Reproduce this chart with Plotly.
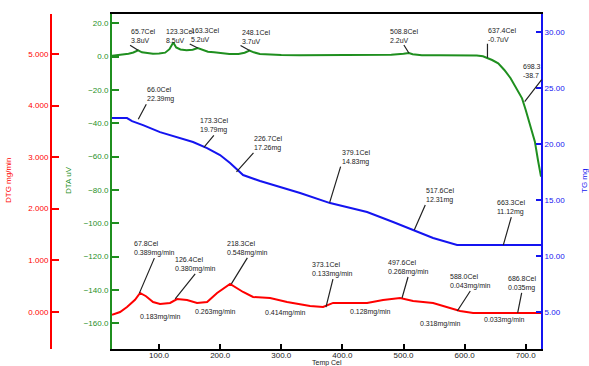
import plotly.graph_objects as go

# ---------------- data ----------------
temp_dta = [23, 30, 40, 50, 58, 65.7, 72, 80, 90, 100, 110, 117, 123.3, 128, 135, 145, 155,
            163.3, 170, 180, 190, 200, 215, 230, 240, 248.1, 255, 265, 280, 300, 330, 360,
            400, 440, 480, 500, 508.8, 515, 530, 560, 600, 620, 630, 637.4, 645, 655, 665,
            675, 685, 694, 700, 705, 710, 715, 720, 725]
dta = [0.5, 0.8, 1.2, 1.8, 2.5, 3.8, 2.6, 2.0, 1.7, 1.9, 2.4, 4.5, 8.5, 5.5, 4.3, 3.8, 4.2,
       5.2, 4.2, 3.0, 2.6, 2.2, 1.6, 1.6, 2.4, 3.7, 2.6, 1.6, 1.2, 1.0, 0.8, 0.9,
       0.8, 1.0, 1.2, 1.8, 2.2, 1.5, 0.9, 0.8, 0.9, 0.7, 0.2, -0.7, -2.0, -4.0, -8.0,
       -12.8, -19.0, -25.0, -32.0, -38.0, -44.0, -51.0, -62.0, -72.0]

temp_tg = [23, 47.6, 55.8, 73.8, 101.6, 129.5, 155.6, 178.6, 199.8, 216.2, 237.5, 265.3,
           298.0, 330.8, 379.9, 440.4, 483.0, 515.7, 548.4, 587.7, 725]
tg = [22.31, 22.31, 22.04, 21.68, 21.05, 20.60, 20.17, 19.63, 19.00, 18.29, 17.22, 16.68,
      16.15, 15.61, 14.71, 13.91, 13.02, 12.30, 11.59, 10.96, 10.96]

temp_dtg = [23, 36.2, 47.6, 60.7, 68.9, 78.7, 90.2, 101.6, 118.0, 129.5, 145.8, 162.2,
            178.6, 195.0, 216.2, 237.5, 253.8, 281.7, 309.5, 347.1, 368.4, 384.8, 440.4,
            466.6, 494.4, 515.7, 548.4, 576.3, 592.6, 613.9, 725]
dtg = [-0.06, -0.006, 0.09, 0.23, 0.363, 0.30, 0.188, 0.15, 0.17, 0.246, 0.227, 0.17,
       0.188, 0.363, 0.538, 0.382, 0.285, 0.266, 0.188, 0.11, 0.091, 0.17, 0.17,
       0.227, 0.266, 0.208, 0.17, 0.072, 0.014, -0.025, -0.025]

x_ticks = [100, 200, 300, 400, 500, 600, 700]
dta_ticks = [20, 0, -20, -40, -60, -80, -100, -120, -140, -160]
tg_ticks = [30, 25, 20, 15, 10, 5]
dtg_ticks = [5, 4, 3, 2, 1, 0]

# peak annotations (temperature, value, label)
dta_peak_T = [65.7, 123.3, 163.3, 248.1, 508.8, 637.4, 698.3]
dta_peak_v = [3.8, 8.5, 5.2, 3.7, 2.2, -0.7, -27.0]
dta_peak_txt = ["65.7Cel<br>3.8uV", "123.3Cel<br>8.5uV", "163.3Cel<br>5.2uV",
                "248.1Cel<br>3.7uV", "508.8Cel<br>2.2uV", "637.4Cel<br>-0.7uV",
                "698.3<br>-38.7"]

tg_pt_T = [66.0, 173.3, 226.7, 379.1, 517.6, 663.3]
tg_pt_v = [22.2, 19.7, 17.5, 14.75, 12.3, 10.96]
tg_pt_txt = ["66.0Cel<br>22.39mg", "173.3Cel<br>19.79mg", "226.7Cel<br>17.26mg",
             "379.1Cel<br>14.83mg", "517.6Cel<br>12.31mg", "663.3Cel<br>11.12mg"]

dtg_pk_T = [67.8, 126.4, 218.3, 373.1, 497.6, 588.0, 686.8]
dtg_pk_v = [0.36, 0.25, 0.54, 0.09, 0.266, 0.014, -0.025]
dtg_pk_txt = ["67.8Cel<br>0.389mg/min", "126.4Cel<br>0.380mg/min", "218.3Cel<br>0.548mg/min",
              "373.1Cel<br>0.133mg/min", "497.6Cel<br>0.268mg/min", "588.0Cel<br>0.043mg/min",
              "686.8Cel<br>0.035mg"]

dtg_low_T = [65.6, 155.6, 270.2, 409.3, 523.9, 628.6]
dtg_low_v = [-0.103, -0.006, -0.025, -0.006, -0.239, -0.161]
dtg_low_txt = ["0.183mg/min", "0.263mg/min", "0.414mg/min", "0.128mg/min",
               "0.318mg/min", "0.033mg/min"]

# ---------------- style / layout ----------------
W, H = 589, 366
PL, PR, PT, PB = 112, 541, 14, 349
GREEN = "#1f8f1f"
BLUE = "#1414f0"
RED = "#ff0000"
FONT = "Liberation Sans"

dta_off = [(-8, -5, "left"), (-8, 2, "left"), (-8, -4, "left"), (-9, -5, "left"),
           (-5, -8, "center"), (0, -14, "left"), (17, -22, "right")]
tg_off = [(8, -15, "left"), (10, -12, "center"), (17, -19, "left"), (11, -36, "left"),
          (11, -25, "left"), (8, -28, "center")]
dtg_off = [(15, -35, "center"), (20, -25, "center"), (16, -26, "center"), (7, -28, "center"),
           (6, -21, "center"), (13, -20, "center"), (4, -20, "center")]

fig = go.Figure()
fig.add_trace(go.Scatter(x=temp_dta, y=dta, mode="lines", yaxis="y",
                         line=dict(color=GREEN, width=2), showlegend=False))
fig.add_trace(go.Scatter(x=temp_tg, y=tg, mode="lines", yaxis="y2",
                         line=dict(color=BLUE, width=2), showlegend=False))
fig.add_trace(go.Scatter(x=temp_dtg, y=dtg, mode="lines", yaxis="y3",
                         line=dict(color=RED, width=2), showlegend=False))

ydom = [1 - PB / H, 1 - PT / H]
common = dict(showgrid=False, zeroline=False, automargin=False)

fig.update_layout(
    width=W, height=H, margin=dict(l=0, r=0, t=0, b=0),
    paper_bgcolor="white", plot_bgcolor="white", showlegend=False,
    xaxis=dict(domain=[PL / W, PR / W], range=[23, 725], tickvals=x_ticks, tickformat=".1f",
               ticks="inside", ticklen=5, tickwidth=2, tickcolor="black",
               showline=True, linecolor="black", linewidth=2, mirror=True,
               ticklabelstandoff=-3,
               tickfont=dict(family=FONT, size=8, color="#222"), **common),
    yaxis=dict(domain=ydom, range=[-175.4, 25.6], tickvals=dta_ticks, tickformat=".1f",
               ticks="inside", ticklen=7, tickwidth=2, tickcolor=GREEN,
               showline=True, linecolor=GREEN, linewidth=2,
               tickfont=dict(family=FONT, size=8, color=GREEN), **common),
    yaxis2=dict(domain=ydom, range=[1.67, 31.61], tickvals=tg_ticks, tickformat=".2f",
                overlaying="y", side="right", anchor="x",
                ticks="inside", ticklen=5, tickwidth=2, tickcolor=BLUE,
                showline=True, linecolor=BLUE, linewidth=2,
                tickfont=dict(family=FONT, size=8, color=BLUE), **common),
    yaxis3=dict(domain=ydom, range=[-0.724, 5.776], tickvals=dtg_ticks, tickformat=".3f",
                overlaying="y", side="left", anchor="free", position=51 / W,
                ticks="inside", ticklen=7, tickwidth=2, tickcolor=RED,
                showline=True, linecolor=RED, linewidth=2,
                tickfont=dict(family=FONT, size=8, color=RED), **common),
)

ann = []
afont = dict(family=FONT, size=7, color="#222")


def add_arrows(Ts, vs, txts, offs, yref):
    for t, v, s, (ax, ay, xa) in zip(Ts, vs, txts, offs):
        ann.append(dict(x=t, y=v, xref="x", yref=yref, text=s, showarrow=True,
                        arrowhead=0, arrowwidth=1.2, arrowcolor="#222", ax=ax, ay=ay,
                        xanchor=xa, yanchor="bottom", align="left", standoff=0,
                        borderpad=0, font=afont))


add_arrows(dta_peak_T, dta_peak_v, dta_peak_txt, dta_off, "y")
add_arrows(tg_pt_T, tg_pt_v, tg_pt_txt, tg_off, "y2")
add_arrows(dtg_pk_T, dtg_pk_v, dtg_pk_txt, dtg_off, "y3")

for t, v, s in zip(dtg_low_T, dtg_low_v, dtg_low_txt):
    ann.append(dict(x=t, y=v, xref="x", yref="y3", text=s, showarrow=False,
                    xanchor="left", yanchor="middle", font=afont))

# axis titles
titles = [("DTG mg/min", 8, 181, -90, RED, 8), ("DTA uV", 68, 180, -90, GREEN, 8),
          ("TG mg", 584, 181, -90, BLUE, 8), ("Temp Cel", 327, 362.5, 0, "#222", 7)]
for s, px, py, ang, col, fs in titles:
    ann.append(dict(x=px / W, y=1 - py / H, xref="paper", yref="paper", text=s,
                    showarrow=False, textangle=ang, xanchor="center", yanchor="middle",
                    font=dict(family=FONT, size=fs, color=col)))

fig.update_layout(annotations=ann)
fig.write_html("out.html", config={"displayModeBar": False},
               post_script="document.body.style.margin='0';")
